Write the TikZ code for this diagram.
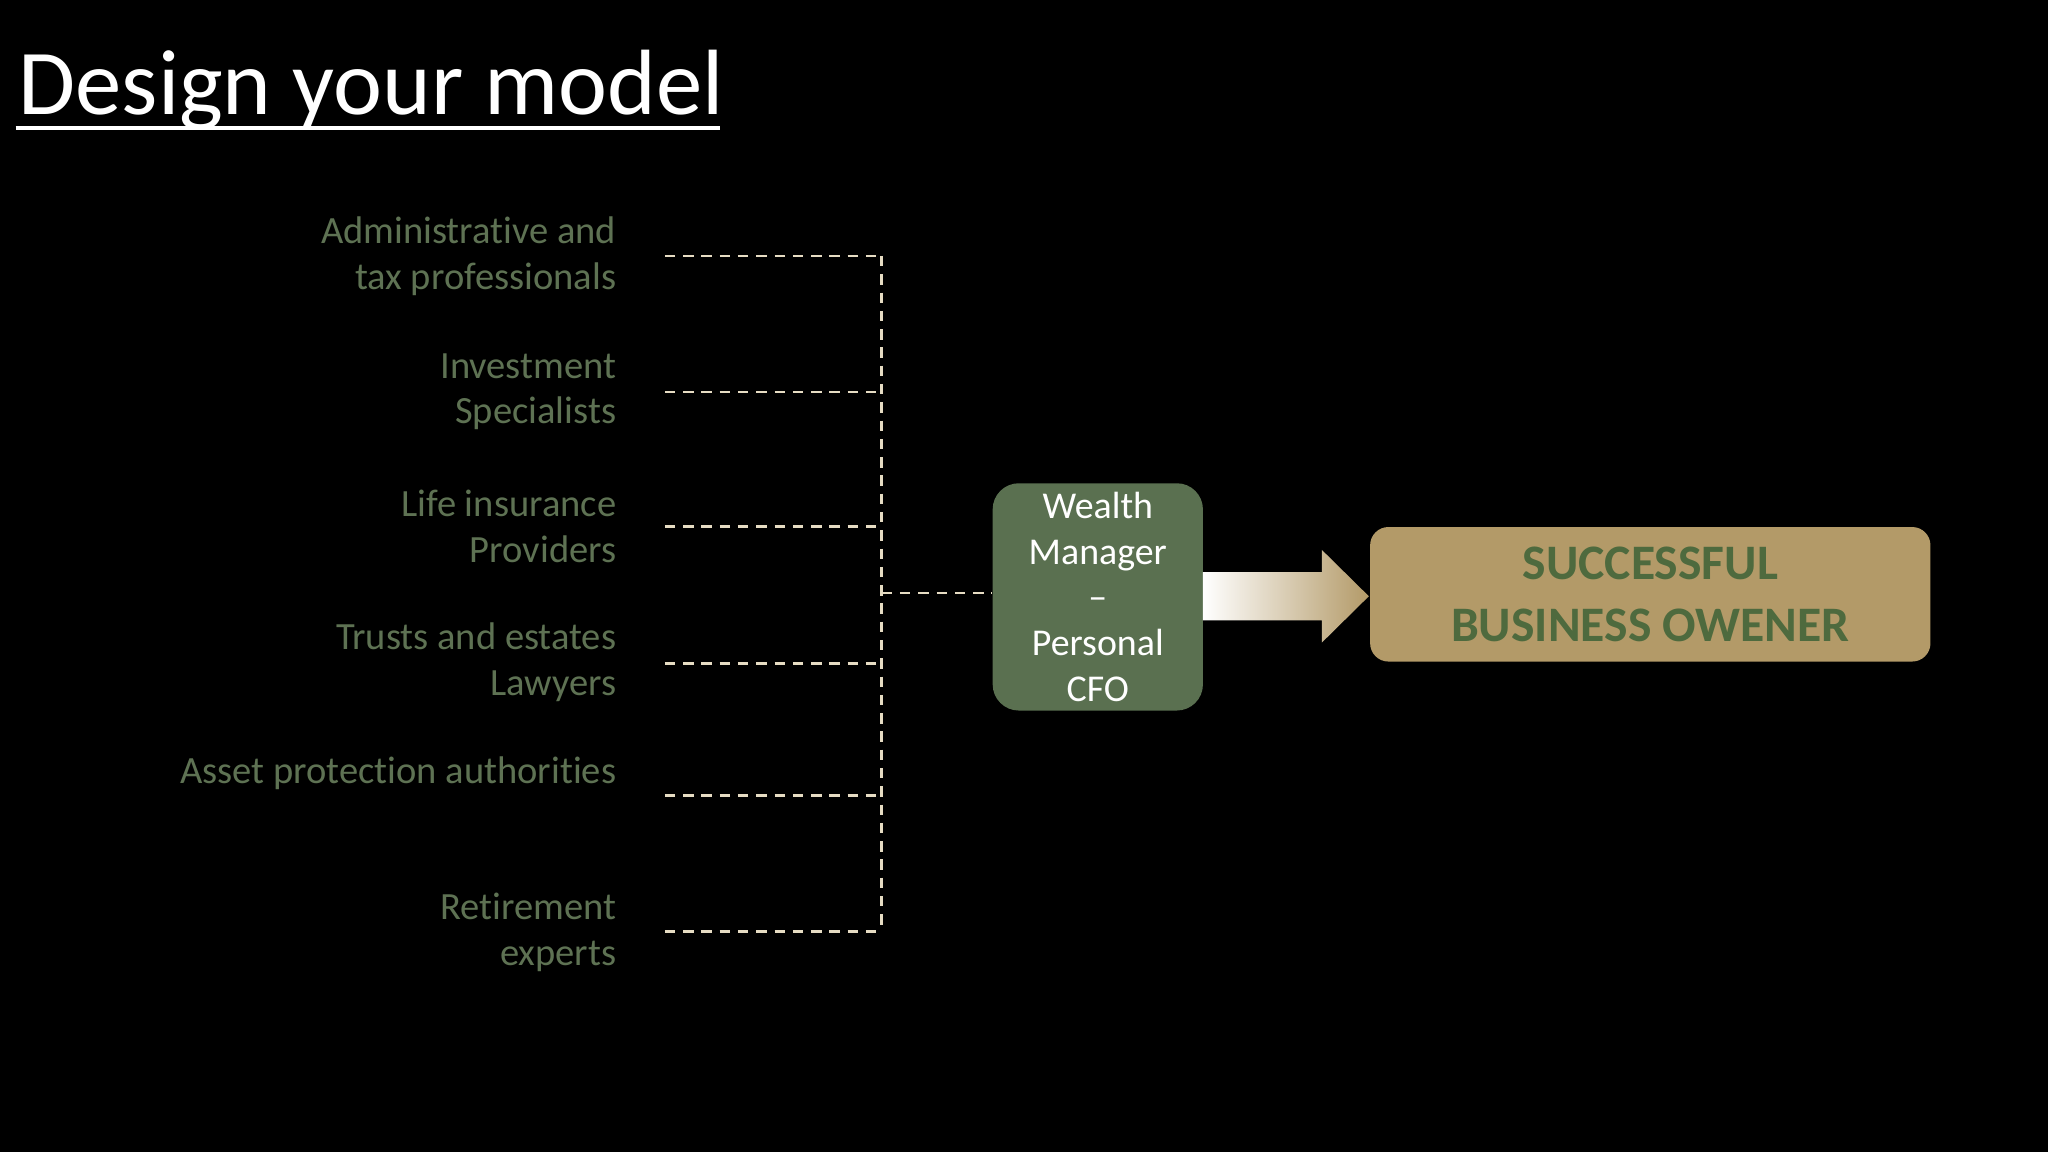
\documentclass[tikz,border=0pt]{standalone}
\usepackage{fontspec}
\setmainfont{Carlito}[Ligatures={NoCommon}]
\definecolor{lbl}{HTML}{5E7253}
\definecolor{boxg}{HTML}{5A7050}
\definecolor{tan}{HTML}{B39A68}
\definecolor{dash}{HTML}{E6DCC3}
\definecolor{dg}{HTML}{4E6A3E}
\begin{document}
\begin{tikzpicture}[x=1pt,y=-1pt,
  lab/.style={anchor=east,align=right,text=lbl,font=\fontsize{29.5}{35}\selectfont,inner sep=0},
  dl/.style={draw=dash,line width=2pt,dash pattern=on 8pt off 6pt}]
\fill[black] (0,0) rectangle (1568,882);
\useasboundingbox (0,0) rectangle (1568,882);
\node[anchor=base west,text=white,font=\fontsize{71}{75}\selectfont,inner sep=0] (title) at (14,88) {Design your model};
\draw[white,line width=2.5pt] (12,98) -- (551,98);
\foreach \n/\y/\t in {a/196,b/300,c/403,d/507,e/592,f/714}{}
\foreach \n/\y/\t in {a/196/{Administrative and\\tax professionals},b/300/{Investment\\Specialists},c/403/{Life insurance\\Providers},d/507/{Trusts and estates\\Lawyers},e/592/{Asset protection authorities},f/714/{Retirement\\experts}}{
  \node[lab] (\n) at (472,\y) {\t};
}
\foreach \n/\y in {a/196,b/300,c/403,d/508,e/609,f/713}{
  \coordinate (s\n) at (509,\y); \coordinate (t\n) at (675,\y);
  \draw[dl] (s\n) -- (t\n);
}
\draw[dl] (ta) -- (tf);
\node[draw=none,fill=boxg,rounded corners=20pt,minimum width=161pt,minimum height=174pt,text=white,align=center,font=\fontsize{29}{35}\selectfont,inner sep=0] (wm) at (840.5,457) {Wealth\\Manager\\–\\Personal\\CFO};
\coordinate (j) at (675,454);
\draw[dl] (j) -- (j -| wm.west);
\node[fill=tan,rounded corners=14pt,minimum width=429pt,minimum height=103pt,text=dg,align=center,font=\bfseries\fontsize{38}{47}\selectfont,inner sep=0] (sbo) at (1263.5,455) {SUCCESSFUL\\BUSINESS OWENER};
\shade[left color=white,right color=tan] (921,438) -- (1012,438) -- (1012,421) -- (1048,456.5) -- (1012,492) -- (1012,475) -- (921,475) -- cycle;
\end{tikzpicture}
\end{document}
